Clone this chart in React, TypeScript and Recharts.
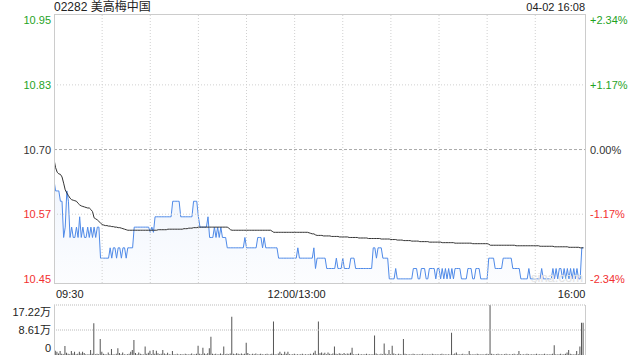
import React from 'react'
import { ComposedChart, Area, Line, Bar, XAxis, YAxis, ReferenceLine } from 'recharts'

const FONT = '"Liberation Sans", Arial, "Noto Sans CJK SC", sans-serif'
const GREEN = '#1fa31f'
const RED = '#f23030'
const BLUE = '#4f8ae8'

// y axis ticks (prev close 10.70)
const priceTicks = [10.45, 10.575, 10.7, 10.825, 10.95]
const priceLabels = ['10.45', '10.57', '10.70', '10.83', '10.95']
const pctLabels = ['-2.34%', '-1.17%', '0.00%', '+1.17%', '+2.34%']
const tickColors = [RED, RED, '#333', GREEN, GREEN]
const gridPrices = [10.575, 10.825]
const prevClose = 10.7

const gridTimes = [30, 60, 90, 120, 150, 180, 210, 240, 270, 300]
const timeTicks = [0, 150, 330]
const timeLabels = ['09:30', '12:00/13:00', '16:00']

const volTicks = [0, 86100, 172200]
const volLabels = ['0', '8.61万', '17.22万']

// one value per trading minute
const price = [
  10.64, 10.62, 10.62, 10.62, 10.6, 10.6, 10.53, 10.55, 10.62, 10.6,
  10.53, 10.55, 10.53, 10.53, 10.55, 10.53, 10.57, 10.53, 10.55, 10.53,
  10.53, 10.55, 10.53, 10.55, 10.53, 10.55, 10.53, 10.55, 10.55, 10.49,
  10.49, 10.49, 10.49, 10.49, 10.49, 10.51, 10.49, 10.51, 10.51, 10.49,
  10.51, 10.51, 10.49, 10.51, 10.51, 10.49, 10.51, 10.51, 10.51, 10.51,
  10.55, 10.55, 10.55, 10.55, 10.55, 10.55, 10.55, 10.55, 10.55, 10.55,
  10.54, 10.55, 10.54, 10.57, 10.57, 10.57, 10.57, 10.57, 10.57, 10.57,
  10.57, 10.57, 10.57, 10.57, 10.6, 10.6, 10.6, 10.6, 10.6, 10.57,
  10.57, 10.57, 10.57, 10.57, 10.57, 10.57, 10.57, 10.6, 10.6, 10.6,
  10.57, 10.55, 10.55, 10.55, 10.55, 10.55, 10.57, 10.53, 10.53, 10.53,
  10.55, 10.53, 10.55, 10.53, 10.55, 10.53, 10.53, 10.53, 10.51, 10.51,
  10.51, 10.51, 10.51, 10.51, 10.51, 10.51, 10.51, 10.51, 10.51, 10.53,
  10.51, 10.51, 10.51, 10.51, 10.51, 10.51, 10.51, 10.53, 10.53, 10.53,
  10.51, 10.53, 10.51, 10.51, 10.51, 10.51, 10.51, 10.51, 10.51, 10.51,
  10.49, 10.49, 10.49, 10.49, 10.49, 10.49, 10.49, 10.49, 10.49, 10.49,
  10.49, 10.49, 10.51, 10.49, 10.49, 10.49, 10.49, 10.49, 10.49, 10.49,
  10.49, 10.49, 10.51, 10.47, 10.49, 10.49, 10.49, 10.49, 10.49, 10.49,
  10.47, 10.47, 10.47, 10.47, 10.47, 10.47, 10.49, 10.47, 10.47, 10.47,
  10.49, 10.47, 10.47, 10.47, 10.47, 10.49, 10.49, 10.49, 10.47, 10.47,
  10.47, 10.47, 10.47, 10.47, 10.47, 10.47, 10.47, 10.47, 10.47, 10.51,
  10.51, 10.49, 10.51, 10.51, 10.51, 10.49, 10.49, 10.49, 10.49, 10.45,
  10.45, 10.45, 10.45, 10.47, 10.45, 10.45, 10.45, 10.45, 10.45, 10.45,
  10.45, 10.45, 10.45, 10.45, 10.47, 10.47, 10.47, 10.45, 10.45, 10.47,
  10.47, 10.47, 10.45, 10.45, 10.47, 10.47, 10.47, 10.47, 10.45, 10.47,
  10.47, 10.45, 10.47, 10.45, 10.47, 10.45, 10.47, 10.45, 10.47, 10.45,
  10.47, 10.47, 10.47, 10.47, 10.45, 10.45, 10.45, 10.45, 10.47, 10.47,
  10.47, 10.45, 10.45, 10.47, 10.47, 10.47, 10.45, 10.45, 10.45, 10.45,
  10.45, 10.49, 10.49, 10.49, 10.49, 10.47, 10.47, 10.47, 10.47, 10.47,
  10.49, 10.49, 10.49, 10.49, 10.49, 10.49, 10.47, 10.47, 10.47, 10.47,
  10.47, 10.45, 10.45, 10.45, 10.45, 10.45, 10.47, 10.45, 10.45, 10.45,
  10.45, 10.45, 10.45, 10.45, 10.47, 10.45, 10.45, 10.45, 10.45, 10.45,
  10.45, 10.47, 10.45, 10.47, 10.45, 10.47, 10.47, 10.45, 10.47, 10.45,
  10.47, 10.45, 10.47, 10.45, 10.47, 10.45, 10.47, 10.45, 10.45, 10.51,
  10.51,
]

const avgPrice = [
  10.681, 10.665, 10.656, 10.653, 10.652, 10.647, 10.635, 10.622, 10.616, 10.611,
  10.606, 10.603, 10.602, 10.601, 10.6, 10.596, 10.593, 10.591, 10.59, 10.589,
  10.588, 10.587, 10.587, 10.584, 10.58, 10.568, 10.566, 10.564, 10.561, 10.558,
  10.555, 10.554, 10.553, 10.553, 10.552, 10.552, 10.551, 10.551, 10.55, 10.55,
  10.549, 10.549, 10.548, 10.547, 10.546, 10.545, 10.544, 10.544, 10.544, 10.544,
  10.544, 10.544, 10.544, 10.544, 10.544, 10.544, 10.544, 10.544, 10.544, 10.544,
  10.544, 10.544, 10.544, 10.544, 10.544, 10.545, 10.545, 10.545, 10.545, 10.545,
  10.545, 10.546, 10.546, 10.546, 10.546, 10.546, 10.546, 10.546, 10.546, 10.546,
  10.546, 10.547, 10.547, 10.547, 10.548, 10.548, 10.548, 10.549, 10.549, 10.549,
  10.55, 10.55, 10.55, 10.55, 10.55, 10.55, 10.55, 10.55, 10.55, 10.55,
  10.55, 10.55, 10.55, 10.55, 10.55, 10.55, 10.55, 10.55, 10.55, 10.548,
  10.545, 10.544, 10.544, 10.544, 10.544, 10.544, 10.544, 10.544, 10.544, 10.544,
  10.544, 10.544, 10.544, 10.544, 10.544, 10.544, 10.544, 10.544, 10.544, 10.544,
  10.544, 10.544, 10.544, 10.544, 10.544, 10.544, 10.542, 10.54, 10.54, 10.54,
  10.54, 10.54, 10.54, 10.54, 10.54, 10.54, 10.54, 10.54, 10.54, 10.54,
  10.54, 10.54, 10.54, 10.54, 10.54, 10.54, 10.54, 10.54, 10.54, 10.539,
  10.538, 10.537, 10.537, 10.535, 10.534, 10.534, 10.534, 10.534, 10.533, 10.533,
  10.533, 10.533, 10.533, 10.532, 10.532, 10.532, 10.532, 10.532, 10.531, 10.531,
  10.531, 10.531, 10.531, 10.531, 10.53, 10.53, 10.53, 10.53, 10.53, 10.53,
  10.529, 10.529, 10.529, 10.529, 10.529, 10.529, 10.528, 10.528, 10.528, 10.528,
  10.528, 10.528, 10.528, 10.528, 10.527, 10.527, 10.527, 10.527, 10.527, 10.527,
  10.526, 10.526, 10.526, 10.526, 10.525, 10.525, 10.525, 10.525, 10.524, 10.524,
  10.524, 10.524, 10.524, 10.523, 10.523, 10.523, 10.523, 10.523, 10.522, 10.522,
  10.522, 10.522, 10.522, 10.522, 10.521, 10.521, 10.521, 10.521, 10.521, 10.521,
  10.521, 10.521, 10.52, 10.52, 10.52, 10.52, 10.52, 10.52, 10.52, 10.52,
  10.519, 10.519, 10.519, 10.519, 10.519, 10.519, 10.519, 10.519, 10.519, 10.519,
  10.519, 10.518, 10.518, 10.518, 10.518, 10.518, 10.518, 10.518, 10.518, 10.518,
  10.518, 10.517, 10.515, 10.515, 10.515, 10.515, 10.515, 10.515, 10.515, 10.515,
  10.515, 10.515, 10.515, 10.515, 10.515, 10.515, 10.515, 10.515, 10.514, 10.514,
  10.514, 10.514, 10.514, 10.514, 10.514, 10.514, 10.514, 10.514, 10.514, 10.514,
  10.514, 10.514, 10.514, 10.513, 10.513, 10.513, 10.513, 10.513, 10.513, 10.513,
  10.513, 10.513, 10.512, 10.512, 10.512, 10.512, 10.512, 10.512, 10.512, 10.512,
  10.512, 10.511, 10.511, 10.511, 10.511, 10.511, 10.511, 10.511, 10.51, 10.51,
  10.51,
]

const volume = [
  23000, 15000, 11000, 5000, 14000, 4000, 3000, 31000, 8000, 4000,
  3000, 14000, 5000, 11000, 3000, 4000, 11000, 5000, 11000, 7000,
  3000, 2000, 3000, 17000, 4000, 109000, 3000, 4000, 3000, 55000,
  11000, 4000, 3000, 2000, 9000, 3000, 21000, 3000, 2000, 4000,
  23000, 7000, 3000, 9000, 3000, 2000, 3000, 4000, 11000, 17000,
  52000, 7000, 3000, 9000, 4000, 3000, 2000, 29000, 4000, 8000,
  15000, 3000, 17000, 4000, 15000, 6000, 3000, 4000, 17000, 5000,
  3000, 8000, 3000, 2000, 14000, 3000, 2000, 4000, 2000, 3000,
  3000, 2000, 4000, 3000, 2000, 3000, 5000, 2000, 3000, 4000,
  32000, 4000, 3000, 25000, 5000, 3000, 6000, 23000, 63000, 4000,
  3000, 4000, 2000, 3000, 5000, 3000, 29000, 3000, 4000, 3000,
  5000, 132000, 4000, 3000, 6000, 4000, 3000, 5000, 3000, 4000,
  42000, 7000, 3000, 2000, 4000, 3000, 5000, 2000, 3000, 4000,
  3000, 2000, 3000, 4000, 2000, 3000, 4000, 115000, 3000, 2000,
  5000, 11000, 4000, 3000, 11000, 4000, 11000, 3000, 2000, 3000,
  4000, 2000, 3000, 2000, 3000, 4000, 2000, 3000, 2000, 3000,
  4000, 2000, 8000, 15000, 3000, 115000, 6000, 9000, 4000, 8000,
  3000, 9000, 4000, 3000, 5000, 29000, 4000, 3000, 6000, 4000,
  3000, 7000, 3000, 5000, 4000, 8000, 25000, 3000, 2000, 3000,
  4000, 2000, 3000, 2000, 3000, 4000, 2000, 3000, 2000, 3000,
  67000, 5000, 3000, 2000, 4000, 3000, 40000, 4000, 3000, 17000,
  3000, 32000, 5000, 3000, 2000, 4000, 3000, 2000, 55000, 4000,
  3000, 2000, 3000, 2000, 4000, 3000, 2000, 3000, 2000, 3000,
  4000, 2000, 3000, 2000, 3000, 2000, 4000, 3000, 2000, 3000,
  2000, 3000, 4000, 2000, 3000, 2000, 3000, 2000, 77000, 3000,
  5000, 9000, 3000, 2000, 3000, 4000, 2000, 3000, 2000, 14000,
  3000, 2000, 3000, 2000, 4000, 3000, 2000, 3000, 2000, 3000,
  4000, 3000, 172200, 4000, 3000, 2000, 3000, 4000, 2000, 3000,
  2000, 3000, 4000, 2000, 3000, 2000, 3000, 4000, 2000, 3000,
  14000, 3000, 2000, 3000, 2000, 4000, 3000, 2000, 3000, 2000,
  3000, 4000, 2000, 3000, 2000, 3000, 4000, 2000, 3000, 2000,
  3000, 4000, 34000, 3000, 2000, 3000, 4000, 2000, 3000, 4000,
  9000, 17000, 4000, 3000, 2000, 3000, 14000, 3000, 29000, 111000,
  111000,
]

const data = price.map((p, i) => ({ t: i, price: p, avg: avgPrice[i], vol: volume[i] }))

const PriceTick = (props: any) => {
  const { x, y, payload } = props
  const i = priceTicks.indexOf(payload.value)
  return (
    <text x={x - 3} y={y} textAnchor="end" dominantBaseline="central" fontSize={11} fontFamily={FONT} fill={tickColors[i]}>
      {priceLabels[i]}
    </text>
  )
}

const PctTick = (props: any) => {
  const { x, y, payload } = props
  const i = priceTicks.indexOf(payload.value)
  return (
    <text x={x + 5} y={y} textAnchor="start" dominantBaseline="central" fontSize={11} fontFamily={FONT} fill={tickColors[i]}>
      {pctLabels[i]}
    </text>
  )
}

const TimeTick = (props: any) => {
  const { x, y, payload } = props
  const i = timeTicks.indexOf(payload.value)
  const anchor = i === 0 ? 'start' : i === timeTicks.length - 1 ? 'end' : 'middle'
  return (
    <text x={x + 2} y={y + 11} textAnchor={anchor} dominantBaseline="central" fontSize={11} fontFamily={FONT} fill="#222">
      {timeLabels[i]}
    </text>
  )
}

const VolTick = (props: any) => {
  const { x, y, payload } = props
  const i = volTicks.indexOf(payload.value)
  const dy = i === 0 ? -7 : i === volTicks.length - 1 ? 7 : 0
  return (
    <text x={x - 3} y={y + dy} textAnchor="end" dominantBaseline="central" fontSize={11} fontFamily={FONT} fill="#222">
      {volLabels[i]}
    </text>
  )
}

export default function App() {
  return (
    <div style={{ position: 'absolute', left: 0, top: 0, width: 640, height: 360, background: '#fff', fontFamily: FONT, overflow: 'hidden' }}>
      <div style={{ position: 'absolute', left: 54, top: 0, fontSize: 12, lineHeight: '14px', color: '#222' }}>02282 美高梅中国</div>
      <div style={{ position: 'absolute', right: 55, top: 0, fontSize: 11, lineHeight: '14px', color: '#222' }}>04-02 16:08</div>

      <div style={{ position: 'absolute', left: 0, top: 0 }}>
        <ComposedChart width={640} height={300} data={data} margin={{ top: 14, right: 0, bottom: 0, left: 0 }}>
          <defs>
            <linearGradient id="priceFill" x1="0" y1="0" x2="0" y2="1">
              <stop offset="0%" stopColor={BLUE} stopOpacity={0.14} />
              <stop offset="100%" stopColor={BLUE} stopOpacity={0.03} />
            </linearGradient>
          </defs>
          <XAxis dataKey="t" type="number" domain={[0, 331]} ticks={timeTicks} interval={0} axisLine={false} tickLine={false} tickSize={0} tickMargin={0} height={17} tick={TimeTick} allowDataOverflow />
          <YAxis yAxisId="l" type="number" domain={[10.442, 10.962]} ticks={priceTicks} interval={0} width={54} axisLine={false} tickLine={false} tickSize={0} tickMargin={0} tick={PriceTick} allowDataOverflow />
          <YAxis yAxisId="r" orientation="right" type="number" domain={[10.442, 10.962]} ticks={priceTicks} interval={0} width={55} axisLine={false} tickLine={false} tickSize={0} tickMargin={0} tick={PctTick} allowDataOverflow />
          {gridTimes.map((t) => (
            <ReferenceLine key={t} yAxisId="l" x={t} stroke="#d0d0d0" strokeDasharray="1 2" />
          ))}
          {gridPrices.map((p) => (
            <ReferenceLine key={p} yAxisId="l" y={p} stroke="#d0d0d0" strokeDasharray="1 2" />
          ))}
          <ReferenceLine yAxisId="l" y={prevClose} stroke="#aaa" strokeDasharray="3 2" />
          <Area yAxisId="l" type="linear" dataKey="price" stroke={BLUE} strokeWidth={1} fill="url(#priceFill)" dot={false} activeDot={false} isAnimationActive={false} />
          <Line yAxisId="l" type="linear" dataKey="avg" stroke="#333" strokeWidth={1} dot={false} activeDot={false} isAnimationActive={false} />
          <Line yAxisId="r" type="linear" dataKey="price" stroke="none" dot={false} activeDot={false} isAnimationActive={false} />
        </ComposedChart>
      </div>

      <div style={{ position: 'absolute', left: 531, top: 270, fontSize: 13, lineHeight: '16px', color: '#e2e2e2' }}>sina.com</div>
      <div style={{ position: 'absolute', left: 54, top: 14, width: 532, height: 270, boxSizing: 'border-box', border: '1px solid #ccc', pointerEvents: 'none' }} />

      <div style={{ position: 'absolute', left: 0, top: 300 }}>
        <ComposedChart width={640} height={60} data={data} margin={{ top: 5, right: 55, bottom: 5, left: 0 }}>
          <XAxis dataKey="t" type="number" domain={[0, 331]} hide allowDataOverflow />
          <YAxis type="number" domain={[0, 172200]} ticks={volTicks} interval={0} width={54} axisLine={false} tickLine={false} tickSize={0} tickMargin={0} tick={VolTick} allowDataOverflow />
          {volTicks.slice(1).map((v) => (
            <ReferenceLine key={v} y={v} stroke="#bbb" strokeDasharray="1 1" />
          ))}
          <Bar dataKey="vol" fill="#555" barSize={1} isAnimationActive={false} />
        </ComposedChart>
      </div>
      <div style={{ position: 'absolute', left: 54, top: 305, width: 532, height: 50, boxSizing: 'border-box', borderLeft: '1px solid #ccc', borderRight: '1px solid #ccc', pointerEvents: 'none' }} />
    </div>
  )
}
